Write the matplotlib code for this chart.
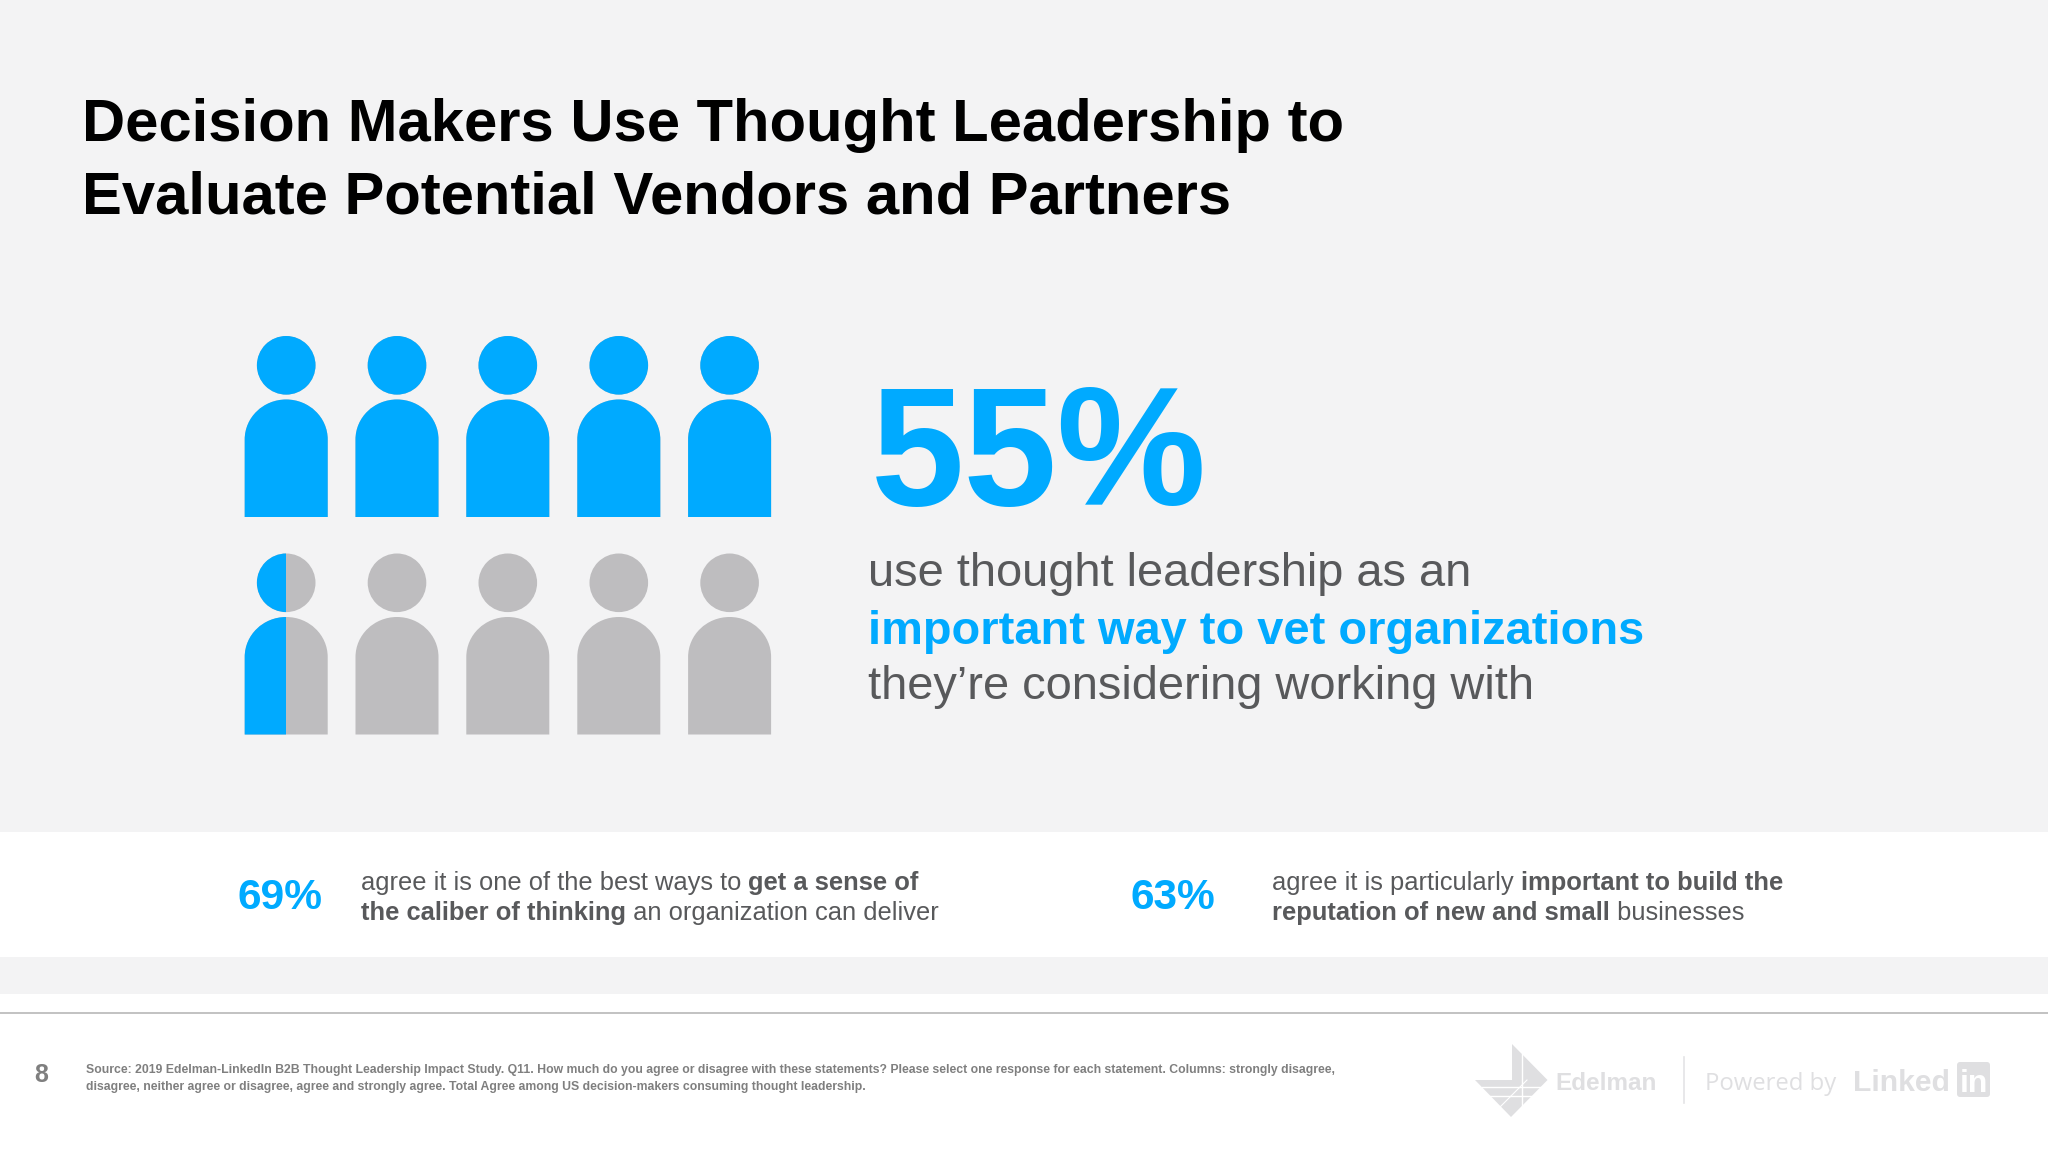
import numpy as np
import matplotlib
matplotlib.use('Agg')
import matplotlib.pyplot as plt
from matplotlib.patches import Rectangle, Circle, Polygon, PathPatch, FancyBboxPatch
from matplotlib.path import Path

plt.rcParams['font.family'] = ['Liberation Sans', 'DejaVu Sans']

title_lines = ['Decision Makers Use Thought Leadership to',
               'Evaluate Potential Vendors and Partners']
share = 55
people = 10
side_stats = ['69%', '63%']
side_left = [[('agree it is one of the best ways to ', False), ('get a sense of', True)],
             [('the caliber of thinking', True), (' an organization can deliver', False)]]
side_right = [[('agree it is particularly ', False), ('important to build the', True)],
              [('reputation of new and small', True), (' businesses', False)]]
source_lines = ['Source: 2019 Edelman-LinkedIn B2B Thought Leadership Impact Study. Q11. How much do you agree or disagree with these statements? Please select one response for each statement. Columns: strongly disagree,',
                'disagree, neither agree or disagree, agree and strongly agree. Total Agree among US decision-makers consuming thought leadership.']

BLUE = '#00aaff'
GREY = '#bebdbf'
TEXT = '#58595b'
BG = '#f3f3f4'

fig = plt.figure(figsize=(20.48, 11.52), dpi=100, facecolor='white')
ax = fig.add_axes([0, 0, 1, 1])
ax.set_xlim(0, 2048)
ax.set_ylim(1152, 0)
ax.axis('off')

# background bands
ax.add_patch(Rectangle((0, 0), 2048, 832, fc=BG, ec='none'))
ax.add_patch(Rectangle((0, 957), 2048, 37, fc=BG, ec='none'))
ax.plot([0, 2048], [1013, 1013], color='#bdbdbd', lw=1.3)


def person_patches(cx, top):
    # head circle and arched body, top = top of the head
    head = Circle((cx, top + 29.3), 29.3)
    k = 0.5523
    rx, ry = 41.5, 40
    bt = top + 63.5
    bb = top + 181
    verts = [(cx - rx, bb), (cx - rx, bt + ry),
             (cx - rx, bt + ry - k * ry), (cx - k * rx, bt), (cx, bt),
             (cx + k * rx, bt), (cx + rx, bt + ry - k * ry), (cx + rx, bt + ry),
             (cx + rx, bb), (cx - rx, bb)]
    codes = [Path.MOVETO, Path.LINETO, Path.CURVE4, Path.CURVE4, Path.CURVE4,
             Path.CURVE4, Path.CURVE4, Path.CURVE4, Path.LINETO, Path.CLOSEPOLY]
    return head, Path(verts, codes)


col_x = [286.2, 397, 507.8, 618.8, 729.6]
row_top = [336, 553.5]
for i in range(people):
    cx = col_x[i % 5]
    top = row_top[i // 5]
    fill = np.clip(share / 100 * people - i, 0, 1)
    for color, x0, x1 in [(GREY, 0, 1), (BLUE, 0, fill)]:
        if x1 <= x0:
            continue
        clip = Rectangle((cx - 42 + 84 * x0, top - 2), 84 * (x1 - x0), 190,
                         transform=ax.transData)
        head, body = person_patches(cx, top)
        head.set(fc=color, ec='none')
        ax.add_patch(head)
        head.set_clip_path(clip)
        b = PathPatch(body, fc=color, ec='none')
        ax.add_patch(b)
        b.set_clip_path(clip)

# title
ax.text(82, 141, title_lines[0], fontsize=43, fontweight='bold', color='black', va='baseline')
ax.text(82, 214, title_lines[1], fontsize=43, fontweight='bold', color='black', va='baseline')

# main stat
ax.text(871, 505, str(share) + '%', fontsize=121, fontweight='bold', color=BLUE, va='baseline')
ax.text(868, 586, 'use thought leadership as an', fontsize=33.8, color=TEXT, va='baseline')
ax.text(868, 644, 'important way to vet organizations', fontsize=33.8, fontweight='bold', color=BLUE, va='baseline')
ax.text(868, 699, 'they\u2019re considering working with', fontsize=33.8, color=TEXT, va='baseline')


def text_runs(x, y, runs, size):
    # regular and bold pieces on one line
    r = fig.canvas.get_renderer()
    for s, bold in runs:
        t = ax.text(x, y, s, fontsize=size, color=TEXT, va='baseline',
                    fontweight='bold' if bold else 'normal')
        x += t.get_window_extent(r).width


ax.text(237.5, 909, side_stats[0], fontsize=30.6, fontweight='bold', color=BLUE, va='baseline')
ax.text(1130, 909, side_stats[1], fontsize=30.6, fontweight='bold', color=BLUE, va='baseline')
for i in range(2):
    y = 890 + i * 30
    text_runs(361, y, side_left[i], 18.4)
    text_runs(1272.5, y, side_right[i], 18.4)

# footer
ax.text(34, 1082, '8', fontsize=18, fontweight='bold', color='#7f7f7f', va='baseline')
for i, s in enumerate(source_lines):
    ax.text(86, 1073 + i * 17, s, fontsize=8.83, fontweight='bold', color='#7f7f7f', va='baseline')

# logos
LOGO = '#dfdfe1'
ax.add_patch(Polygon([(1512, 1044), (1547.5, 1080), (1511, 1117), (1475, 1080), (1512, 1080)], fc=LOGO, ec='none'))
ax.plot([1522, 1522], [1054, 1106], color='white', lw=1)
ax.plot([1482, 1541], [1087, 1087], color='white', lw=1)
ax.plot([1489, 1533], [1096, 1096], color='white', lw=1)
ax.plot([1496, 1527], [1111, 1080], color='white', lw=0.8)
ax.text(1555, 1090, 'Edelman', fontsize=17.5, fontweight='bold', color=LOGO, va='baseline')
ax.plot([1683.5, 1683.5], [1057, 1103], color='#e4e4e6', lw=1.2)
ax.text(1705, 1090, 'Powered by', fontsize=17.2, color=LOGO, va='baseline', family='Open Sans')
ax.text(1853, 1091, 'Linked', fontsize=21.7, fontweight='bold', color=LOGO, va='baseline')
ax.add_patch(FancyBboxPatch((1958, 1063), 31, 33, boxstyle='round,pad=1,rounding_size=3', fc=LOGO, ec='none'))
ax.text(1973.5, 1092, 'in', fontsize=23, fontweight='bold', color='white', va='baseline', ha='center')

fig.savefig('out.png', dpi=100, facecolor='white')
